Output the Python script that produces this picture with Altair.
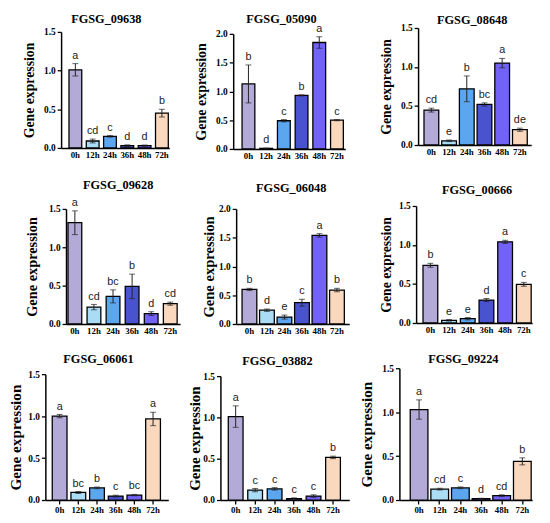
import altair as alt
import pandas as pd

SERIF = "Liberation Serif, Times New Roman, Times, serif"
SANS = "Liberation Sans, Arial, Helvetica, sans-serif"

times = ["0h", "12h", "24h", "36h", "48h", "72h"]
colors = ["#b3aad8", "#aadcf6", "#5ba6ee", "#4a53cf", "#7262f5", "#f9d8be"]

genes = ["FGSG_09638", "FGSG_05090", "FGSG_08648",
         "FGSG_09628", "FGSG_06048", "FGSG_00666",
         "FGSG_06061", "FGSG_03882", "FGSG_09224"]

mean_09638 = [1.01, 0.09, 0.15, 0.03, 0.03, 0.45]
err_09638 = [0.08, 0.025, 0.01, 0.01, 0.008, 0.05]
sig_09638 = ["a", "cd", "c", "d", "d", "b"]

mean_05090 = [1.13, 0.01, 0.49, 0.93, 1.85, 0.50]
err_05090 = [0.33, 0.005, 0.02, 0.01, 0.10, 0.01]
sig_05090 = ["b", "d", "c", "b", "a", "c"]

mean_08648 = [0.447, 0.054, 0.72, 0.52, 1.05, 0.196]
err_08648 = [0.025, 0.01, 0.165, 0.02, 0.06, 0.02]
sig_08648 = ["cd", "e", "b", "bc", "a", "de"]

mean_09628 = [1.32, 0.22, 0.36, 0.49, 0.135, 0.265]
err_09628 = [0.155, 0.035, 0.085, 0.16, 0.025, 0.02]
sig_09628 = ["a", "cd", "bc", "b", "d", "cd"]

mean_06048 = [0.60, 0.24, 0.12, 0.37, 1.54, 0.59]
err_06048 = [0.02, 0.02, 0.035, 0.06, 0.03, 0.03]
sig_06048 = ["b", "d", "e", "c", "a", "b"]

mean_00666 = [0.74, 0.034, 0.055, 0.294, 1.04, 0.496]
err_00666 = [0.025, 0.01, 0.015, 0.02, 0.02, 0.025]
sig_00666 = ["b", "e", "e", "d", "a", "c"]

mean_06061 = [1.00, 0.09, 0.145, 0.047, 0.059, 0.966]
err_06061 = [0.02, 0.012, 0.01, 0.01, 0.008, 0.08]
sig_06061 = ["a", "bc", "b", "c", "bc", "a"]

mean_03882 = [1.01, 0.12, 0.135, 0.016, 0.048, 0.516]
err_03882 = [0.13, 0.02, 0.015, 0.01, 0.015, 0.015]
sig_03882 = ["a", "c", "c", "c", "c", "b"]

mean_09224 = [1.03, 0.124, 0.139, 0.015, 0.049, 0.44]
err_09224 = [0.11, 0.01, 0.01, 0.005, 0.01, 0.04]
sig_09224 = ["a", "cd", "c", "d", "cd", "b"]

means = [mean_09638, mean_05090, mean_08648, mean_09628, mean_06048,
         mean_00666, mean_06061, mean_03882, mean_09224]
errs = [err_09638, err_05090, err_08648, err_09628, err_06048,
        err_00666, err_06061, err_03882, err_09224]
sigs = [sig_09638, sig_05090, sig_08648, sig_09628, sig_06048,
        sig_00666, sig_06061, sig_03882, sig_09224]
ymaxes = [1.5, 2.0, 1.5, 1.5, 2.0, 1.5, 1.5, 1.5, 1.5]

# ---- layout (pixels inside each uniform cell) ----
CW, CH, GAP = 178, 168, 3
# x0, x1 (plot left/right), yt, yb (plot top/bottom), title cx, title baseline,
# left gap, right gap, bar width, y-title font size, y-title padding, x ticks
LAYOUT = [
    (51, 161, 18, 136, 97, 8.5, 8, 1, 13, 14.0, 7.2, False),
    (45, 159, 20, 137, 94, 8.5, 9, 2, 13, 14.3, 7.0, False),
    (52, 167, 14, 133, 107, 10, 6, 4, 15, 14.0, 7.2, False),
    (56, 172, 27, 144, 109, 6.5, 2, 3, 14, 14.6, 9.0, False),
    (48, 163, 27, 144, 104, 9.5, 6, 5, 15, 14.8, 1.9, False),
    (50, 168, 24, 143, 112, 11.5, 7, 1, 15, 14.0, 5.2, False),
    (35, 160, 24, 152, 89, 13, 7, 8, 15, 15.5, 4.5, True),
    (32, 163, 26, 152, 90, 15, 8, 9, 15, 15.3, 0.0, True),
    (33, 168, 18, 152, 98, 13, 11, 1, 18, 15.5, 7.6, True),
]


def panel(i):
    gene = genes[i]
    ymax = ymaxes[i]
    x0, x1, yt, yb, tcx, tby, gl, gr, bw, yfs, tp, xticks = LAYOUT[i]
    df = pd.DataFrame({"time": times, "mean": means[i], "err": errs[i], "sig": sigs[i]})
    df["lo"] = df["mean"] - df["err"]
    df["hi"] = df["mean"] + df["err"]
    W = x1 - x0
    s = (W - gl - gr - bw) / 5.0
    pi = 1 - bw / s
    po = (gl + gr) / (2 * s)
    al = gl / (gl + gr)
    xscale = alt.Scale(range=[x0, x1], paddingInner=pi, paddingOuter=po, align=al)
    xaxis = alt.Axis(title=None, labelAngle=0, labelFont=SERIF, labelFontWeight="bold",
                     labelFontSize=9, labelColor="black", domainColor="black",
                     domainWidth=1.5, ticks=xticks, tickColor="black", tickSize=4,
                     tickWidth=1.3, labelPadding=2 if xticks else 3,
                     offset=-(CH - yb))
    yticks = [k * 0.5 for k in range(int(round(ymax / 0.5)) + 1)]
    yaxis = alt.Axis(title="Gene expression", values=yticks, format=".1f", grid=False,
                     labelFont=SERIF, labelFontWeight="bold", labelFontSize=9.5,
                     labelColor="black", labelPadding=2, domainColor="black",
                     domainWidth=1.5, tickColor="black", tickSize=4, tickWidth=1.3,
                     titleFont=SERIF, titleFontWeight="bold", titleFontSize=yfs,
                     titleColor="black", titlePadding=tp, offset=-x0)
    base = alt.Chart(df)
    bars = base.mark_bar(stroke="black", strokeWidth=1.3).encode(
        x=alt.X("time:N", sort=times, scale=xscale, axis=xaxis),
        y=alt.Y("mean:Q", scale=alt.Scale(domain=[0, ymax], nice=False, range=[yb, yt]),
                axis=yaxis),
        color=alt.Color("time:N", scale=alt.Scale(domain=times, range=colors), legend=None),
    )
    xs = alt.X("time:N", sort=times)
    rule = base.mark_rule(color="#222222", strokeWidth=1).encode(x=xs, y="lo:Q", y2="hi:Q")
    capt = base.mark_tick(color="#222222", size=6, thickness=1).encode(x=xs, y="hi:Q")
    capb = base.mark_tick(color="#222222", size=6, thickness=1).encode(x=xs, y="lo:Q")
    txt = base.mark_text(font=SANS, fontSize=11, baseline="bottom", dy=-3,
                         color="#222222").encode(x=xs, y="hi:Q", text="sig:N")
    ttl = alt.Chart(pd.DataFrame({"g": [gene]})).mark_text(
        font=SERIF, fontWeight="bold", fontSize=12.5, color="black",
        align="center", baseline="alphabetic"
    ).encode(text="g:N", x=alt.value(tcx), y=alt.value(tby))
    return alt.layer(bars, rule, capt, capb, txt, ttl).properties(width=CW, height=CH)


panels = [panel(i) for i in range(9)]

chart = alt.concat(
    *panels, columns=3, spacing=GAP, bounds="flush", align="all"
).properties(padding=0).configure_view(stroke=None)

chart.save("out.html", embed_options={"renderer": "svg", "actions": False})
